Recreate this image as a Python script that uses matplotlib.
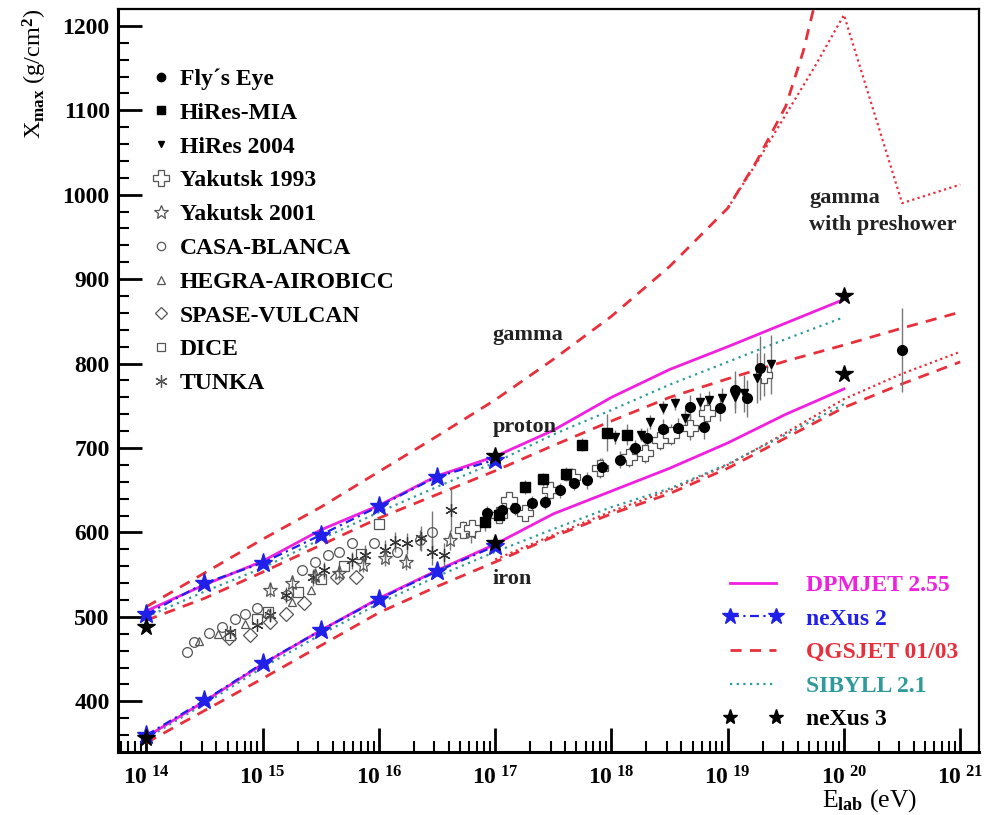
import numpy as np
import matplotlib
matplotlib.use("Agg")
import matplotlib.pyplot as plt
from matplotlib.lines import Line2D

plt.rcParams['font.family'] = ['Liberation Serif', 'DejaVu Serif']
plt.rcParams['font.weight'] = 'bold'
plt.rcParams['mathtext.fontset'] = 'custom'
plt.rcParams['mathtext.rm'] = 'Liberation Serif:bold'
plt.rcParams['mathtext.it'] = 'Liberation Serif:bold'
plt.rcParams['mathtext.bf'] = 'Liberation Serif:bold'

# ---- model curves (log10 E, Xmax) ----
gam_qgs_lg = [14.0, 14.5, 15.0, 15.5, 16.0, 16.5, 17.0, 17.5, 18.0, 18.5, 19.0, 19.25, 19.5, 19.65, 19.8]
gam_qgs_x = [512, 552, 592, 630, 672, 714, 757, 805, 856, 915, 984, 1040, 1105, 1170, 1255]
gam_pre_lg = [19.0, 19.25, 19.5, 19.75, 20.0, 20.5, 21.0]
gam_pre_x = [984, 1038, 1095, 1152, 1213, 990, 1012]

dpm_p_lg = [14.0, 14.5, 15.0, 15.5, 16.0, 16.5, 17.0, 17.5, 18.0, 18.5, 19.0, 19.5, 20.0]
dpm_p_x = [507, 538, 566, 603, 632, 667, 690, 721, 760, 793, 820, 848, 876]
dpm_fe_lg = [14.0, 14.5, 15.0, 15.5, 16.0, 16.5, 17.0, 17.5, 18.0, 18.5, 19.0, 19.5, 20.0]
dpm_fe_x = [358, 400, 444, 484, 522, 555, 586, 622, 649, 676, 706, 740, 770]

nex2_lg = [14.0, 14.5, 15.0, 15.5, 16.0, 16.5, 17.0]
nex2_p_x = [503, 540, 564, 597, 631, 666, 686]
nex2_fe_x = [360, 401, 445, 484, 521, 554, 584]

qgs_p_lg = [14.0, 14.5, 15.0, 15.5, 16.0, 16.5, 17.0, 17.5, 18.0, 18.5, 19.0, 19.5, 20.0, 20.5, 21.0]
qgs_p_x = [496, 522, 553, 585, 617, 645, 673, 703, 732, 760, 782, 803, 822, 842, 861]
qgs_fe_lg = [14.0, 14.5, 15.0, 15.5, 16.0, 16.5, 17.0, 17.5, 18.0, 18.5, 19.0, 19.5, 20.0, 20.5, 21.0]
qgs_fe_x = [351, 389, 427, 466, 505, 536, 565, 595, 622, 646, 676, 712, 748, 776, 802]
qgs03_fe_lg = [17.0, 17.5, 18.0, 18.5, 19.0, 19.5, 20.0, 20.5, 21.0]
qgs03_fe_x = [568, 597, 625, 650, 680, 718, 758, 788, 814]

sib_p_lg = [14.0, 14.5, 15.0, 15.5, 16.0, 16.5, 17.0, 17.5, 18.0, 18.5, 19.0, 19.5, 20.0]
sib_p_x = [500, 530, 558, 592, 624, 654, 683, 716, 745, 775, 802, 829, 855]
sib_fe_lg = [14.0, 14.5, 15.0, 15.5, 16.0, 16.5, 17.0, 17.5, 18.0, 18.5, 19.0, 19.5, 20.0]
sib_fe_x = [356, 397, 440, 479, 516, 548, 577, 604, 630, 652, 681, 716, 752]

nex3_lg = [14.0, 17.0, 20.0, 14.0, 17.0, 20.0]
nex3_x = [488, 690, 880, 356, 588, 788]

# ---- data points (log10 E, Xmax, error) ----
fly_lg = [16.93, 17.06, 17.17, 17.32, 17.43, 17.56, 17.68, 17.79, 17.92, 18.07, 18.20, 18.31, 18.44, 18.57, 18.68, 18.80, 18.93, 19.06, 19.17, 19.28, 20.50]
fly_x = [623, 627, 629, 635, 636, 650, 659, 662, 678, 686, 700, 712, 722, 724, 749, 725, 748, 769, 759, 795, 816]
fly_e = [8, 8, 8, 8, 8, 9, 9, 10, 10, 10, 10, 12, 12, 12, 14, 14, 16, 22, 22, 38, 50]

mia_lg = [16.91, 17.03, 17.26, 17.41, 17.61, 17.75, 17.96, 18.13]
mia_x = [612, 621, 654, 663, 669, 704, 718, 716]
mia_e = [10, 10, 8, 8, 8, 8, 22, 12]

hr_lg = [18.03, 18.25, 18.33, 18.44, 18.55, 18.63, 18.76, 18.84, 18.95, 19.06, 19.14, 19.25, 19.37]
hr_x = [713, 716, 731, 748, 753, 736, 755, 757, 759, 761, 765, 783, 799]
hr_e = [8, 8, 8, 8, 8, 10, 10, 10, 12, 20, 22, 30, 35]

yak93_lg = [16.72, 16.80, 17.03, 17.12, 17.26, 17.47, 17.66, 17.90, 18.15, 18.29, 18.42, 18.51, 18.68, 18.82, 19.31]
yak93_x = [603, 605, 621, 638, 623, 650, 666, 676, 689, 694, 710, 716, 724, 742, 787]
yak93_e = [10, 10, 10, 10, 10, 10, 10, 12, 12, 12, 12, 12, 15, 15, 25]

yak01_lg = [15.06, 15.25, 15.45, 15.66, 15.86, 16.05, 16.23, 16.61, 16.79]
yak01_x = [532, 540, 548, 552, 561, 570, 565, 591, 600]
yak01_e = [8, 8, 8, 8, 8, 10, 10, 12, 12]

casa_lg = [14.35, 14.41, 14.54, 14.65, 14.76, 14.85, 14.95, 15.21, 15.34, 15.45, 15.56, 15.66, 15.77, 15.96, 16.16, 16.35, 16.46]
casa_x = [458, 470, 481, 488, 498, 504, 511, 526, 555, 565, 573, 577, 587, 587, 577, 591, 600]
casa_e = [0, 0, 0, 0, 0, 0, 0, 0, 0, 0, 0, 0, 0, 0, 0, 12, 25]

hegra_lg = [14.45, 14.62, 14.85, 15.05, 15.25, 15.42]
hegra_x = [472, 480, 492, 505, 518, 532]

spase_lg = [14.71, 14.89, 15.06, 15.20, 15.36, 15.64, 15.80]
spase_x = [475, 478, 494, 504, 517, 547, 547]

dice_lg = [14.72, 14.95, 15.05, 15.30, 15.50, 15.70, 15.85, 16.00]
dice_x = [478, 497, 506, 530, 545, 560, 575, 610]

tunka_lg = [14.72, 14.95, 15.06, 15.20, 15.43, 15.53, 15.77, 15.88, 16.05, 16.14, 16.24, 16.36, 16.46, 16.56, 16.62]
tunka_x = [482, 490, 502, 526, 547, 555, 567, 573, 579, 589, 587, 593, 577, 573, 627]
tunka_e = [0, 0, 8, 10, 10, 10, 10, 12, 12, 12, 12, 15, 15, 15, 25]

E = lambda lg: np.power(10.0, np.array(lg))

fig = plt.figure(figsize=(9.88, 8.15), dpi=100)
ax = fig.add_axes([0.1194, 0.0773, 0.8715, 0.9117])

MAG = '#f020e0'
BLUE = '#2020e8'
RED = '#e8303c'
TEAL = '#2f9a9a'
GRAY = '#555555'

# model curves
ax.plot(E(gam_qgs_lg), gam_qgs_x, ls=(0, (4, 3)), color=RED, lw=2)
ax.plot(E(gam_pre_lg), gam_pre_x, ls=(0, (1, 1.5)), color=RED, lw=1.6)
ax.plot(E(qgs_p_lg), qgs_p_x, ls=(0, (4, 3)), color=RED, lw=2)
ax.plot(E(qgs_fe_lg), qgs_fe_x, ls=(0, (4, 3)), color=RED, lw=2)
ax.plot(E(qgs03_fe_lg), qgs03_fe_x, ls=(0, (1, 1.5)), color=RED, lw=1.6)
ax.plot(E(sib_p_lg), sib_p_x, ls=(0, (1, 2)), color=TEAL, lw=1.6)
ax.plot(E(sib_fe_lg), sib_fe_x, ls=(0, (1, 2)), color=TEAL, lw=1.6)
ax.plot(E(dpm_p_lg), dpm_p_x, color=MAG, lw=2)
ax.plot(E(dpm_fe_lg), dpm_fe_x, color=MAG, lw=2)
ax.plot(E(nex2_lg), nex2_p_x, ls=(0, (4, 2, 1, 2)), color=BLUE, lw=1.6,
        marker='*', ms=14, mfc=BLUE, mec=BLUE)
ax.plot(E(nex2_lg), nex2_fe_x, ls=(0, (4, 2, 1, 2)), color=BLUE, lw=1.6,
        marker='*', ms=14, mfc=BLUE, mec=BLUE)
ax.plot(E(nex3_lg), nex3_x, ls='none', marker='*', ms=13, color='black')

# data
eb = dict(ecolor='#777777', elinewidth=1, capsize=0, ls='none')
ax.errorbar(E(casa_lg), casa_x, yerr=casa_e, fmt='o', ms=7, mfc='none', mec=GRAY, mew=0.9, **eb)
ax.errorbar(E(hegra_lg), hegra_x, yerr=0, fmt='^', ms=6, mfc='none', mec=GRAY, mew=0.9, **eb)
ax.errorbar(E(spase_lg), spase_x, yerr=0, fmt='D', ms=7, mfc='none', mec=GRAY, mew=0.9, **eb)
ax.errorbar(E(dice_lg), dice_x, yerr=0, fmt='s', ms=7, mfc='none', mec=GRAY, mew=0.9, **eb)
ax.errorbar(E(tunka_lg), tunka_x, yerr=tunka_e, fmt='none', **eb)
ax.plot(E(tunka_lg), tunka_x, ls='none', marker=(6, 2, 0), ms=9, color='#333333', mew=0.9)
ax.errorbar(E(yak01_lg), yak01_x, yerr=yak01_e, fmt='*', ms=11, mfc='none', mec=GRAY, mew=0.9, **eb)
ax.errorbar(E(yak93_lg), yak93_x, yerr=yak93_e, fmt='P', ms=11, mfc='white', mec=GRAY, mew=0.9, **eb)
ax.errorbar(E(mia_lg), mia_x, yerr=mia_e, fmt='s', ms=7, color='black', **eb)
ax.errorbar(E(hr_lg), hr_x, yerr=hr_e, fmt='v', ms=6, color='black', **eb)
ax.errorbar(E(fly_lg), fly_x, yerr=fly_e, fmt='o', ms=7, color='black', **eb)

# axes
ax.set_xscale('log')
ax.set_xlim(5.7e13, 1.45e21)
ax.set_ylim(340, 1220)
dec = [14, 15, 16, 17, 18, 19, 20, 21]
ax.set_xticks(E(dec))
ax.set_xticklabels([r'10$^{\ %d}$' % d for d in dec], fontsize=17)
ax.xaxis.set_minor_locator(matplotlib.ticker.LogLocator(base=10, subs=np.arange(2, 10), numticks=20))
ax.xaxis.set_minor_formatter(matplotlib.ticker.NullFormatter())
ax.set_yticks(np.arange(400, 1201, 100))
ax.set_yticks(np.arange(360, 1220, 20), minor=True)
ax.tick_params(axis='both', which='major', direction='in', length=17, width=2, top=False, right=False)
ax.tick_params(axis='both', which='minor', direction='in', length=8, width=1.5, top=False, right=False)
ax.tick_params(axis='y', labelsize=17, pad=6)
ax.tick_params(axis='x', pad=10)
for s in ['left', 'bottom']:
    ax.spines[s].set_linewidth(2.2)
for s in ['top', 'right']:
    ax.spines[s].set_linewidth(1.6)

ax.set_ylabel(r'X$_{\rm max}$ (g/cm$^{\rm 2}$)', fontsize=17.5)
ax.yaxis.set_label_coords(-0.080, 0.912)
ax.set_xlabel(r'E$_{\rm lab}$ (eV)', fontsize=18.5)
ax.xaxis.set_label_coords(0.873, -0.047)

# curve labels
txt = dict(fontsize=16, fontweight='bold', color='#222222')
ax.text(10**16.98, 828, 'gamma', **txt)
ax.text(10**16.98, 719, 'proton', **txt)
ax.text(10**16.98, 539, 'iron', **txt)
ax.text(10**19.7, 990, 'gamma', **txt)
ax.text(10**19.7, 958, 'with preshower', **txt)

# experiment legend
h1 = [
    Line2D([], [], ls='none', marker='o', ms=6, color='black'),
    Line2D([], [], ls='none', marker='s', ms=6, color='black'),
    Line2D([], [], ls='none', marker='v', ms=5, color='black'),
    Line2D([], [], ls='none', marker='P', ms=11, mfc='none', mec=GRAY, mew=0.9),
    Line2D([], [], ls='none', marker='*', ms=10, mfc='none', mec=GRAY, mew=0.9),
    Line2D([], [], ls='none', marker='o', ms=6, mfc='none', mec=GRAY, mew=0.9),
    Line2D([], [], ls='none', marker='^', ms=6, mfc='none', mec=GRAY, mew=0.9),
    Line2D([], [], ls='none', marker='D', ms=6, mfc='none', mec=GRAY, mew=0.9),
    Line2D([], [], ls='none', marker='s', ms=6, mfc='none', mec=GRAY, mew=0.9),
    Line2D([], [], ls='none', marker=(6, 2, 0), ms=9, color=GRAY, mew=0.9),
]
l1 = ["Fly\u00b4s Eye", 'HiRes-MIA', 'HiRes 2004', 'Yakutsk 1993', 'Yakutsk 2001',
      'CASA-BLANCA', 'HEGRA-AIROBICC', 'SPASE-VULCAN', 'DICE', 'TUNKA']
leg1 = ax.legend(h1, l1, loc='upper left', bbox_to_anchor=(0.036, 0.92), frameon=False,
                 prop={'size': 17, 'weight': 'bold'}, labelspacing=0.52,
                 handlelength=1.0, handletextpad=0.31, borderpad=0, borderaxespad=0)
ax.add_artist(leg1)

# model legend
h2 = [
    Line2D([], [], color=MAG, lw=2),
    Line2D([], [], color=BLUE, lw=1.6, ls=(0, (4, 2, 1, 2)), marker='*', ms=12),
    Line2D([], [], color=RED, lw=2, ls=(0, (4, 3))),
    Line2D([], [], color=TEAL, lw=1.6, ls=(0, (1, 2))),
    Line2D([], [], ls='none', marker='*', ms=11, color='black'),
]
l2 = ['DPMJET 2.55', 'neXus 2', 'QGSJET 01/03', 'SIBYLL 2.1', 'neXus 3']
ax.legend(h2, l2, loc='lower left', bbox_to_anchor=(0.703, 0.029), frameon=False,
          prop={'size': 17, 'weight': 'bold'}, labelspacing=0.51, numpoints=2,
          handlelength=2.54, handletextpad=0.97, borderpad=0, borderaxespad=0,
          labelcolor=[MAG, BLUE, RED, TEAL, 'black'])

fig.savefig('out.png', dpi=100)
